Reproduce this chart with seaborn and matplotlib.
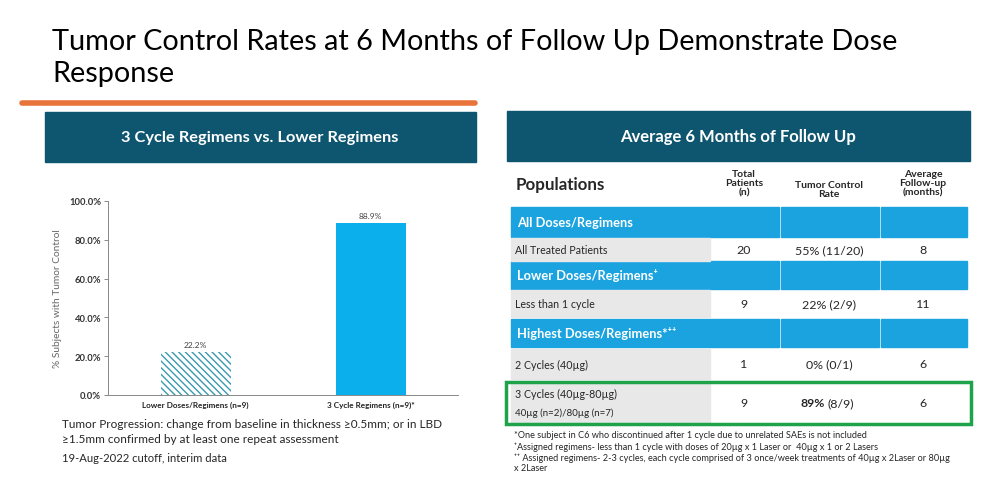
import matplotlib
matplotlib.use("Agg")
import matplotlib.pyplot as plt
import matplotlib.patches as mpatches
import numpy as np
import pandas as pd
import seaborn as sns

sns.set_theme(style="white")
plt.rcParams["font.family"] = ["Lato", "DejaVu Sans"]
plt.rcParams["hatch.linewidth"] = 1.0

# bar chart data
categories = ["Lower Doses/Regimens (n=9)", "3 Cycle Regimens (n=9)*"]
control_pct = [22.2, 88.9]
y_ticks = [0, 20, 40, 60, 80, 100]

# table data
group_names = ["All Doses/Regimens", "Lower Doses/Regimens\u207a", "Highest Doses/Regimens*\u207a\u207a"]
row_labels = ["All Treated Patients", "Less than 1 cycle", "2 Cycles (40\u00b5g)",
              "3 Cycles (40\u00b5g-80\u00b5g)"]
row_sublabels = ["", "", "", "40\u00b5g (n=2)/80\u00b5g (n=7)"]
total_patients = [20, 9, 1, 9]
controlled = [11, 2, 0, 8]
followup_months = [8, 11, 6, 6]
footnotes = [
    "*One subject in C6 who discontinued after 1 cycle due to unrelated SAEs is not included",
    "\u207aAssigned regimens- less than 1 cycle with doses of 20\u00b5g x 1 Laser or  40\u00b5g x 1 or 2 Lasers",
    "\u207a\u207a Assigned regimens- 2-3 cycles, each cycle comprised of 3 once/week treatments of 40\u00b5g x 2Laser or 80\u00b5g",
    "x 2Laser",
]

DARK = "#0E5670"
BLUE = "#1AA3DF"
BAR_BLUE = "#0BAFEC"
HATCH = "#3A9BB0"
GREY = "#E8E8E8"

W, H = 992, 485
fig = plt.figure(figsize=(W / 100, H / 100), dpi=100)
fig.patch.set_facecolor("white")

# background canvas in pixel coords
bg = fig.add_axes([0, 0, 1, 1])
bg.set_xlim(0, W)
bg.set_ylim(H, 0)
bg.axis("off")

bg.text(52, 42, "Tumor Control Rates at 6 Months of Follow Up Demonstrate Dose",
        fontsize=20.8, va="center", ha="left", color="black")
bg.text(52, 74, "Response", fontsize=20.8, va="center", ha="left", color="black")
bg.plot([22, 475], [104, 104], color="#E8743B", lw=4, solid_capstyle="round")

# header boxes
bg.add_patch(mpatches.Rectangle((45, 113), 431, 50, color=DARK))
bg.text(260, 138, "3 Cycle Regimens vs. Lower Regimens", color="white",
        fontsize=11.8, fontweight="bold", ha="center", va="center")
bg.add_patch(mpatches.Rectangle((507, 112), 463, 50, color=DARK))
bg.text(738, 137, "Average 6 Months of Follow Up", color="white",
        fontsize=12, fontweight="bold", ha="center", va="center")

# --- bar chart ---
ax = fig.add_axes([108 / W, (H - 396) / H, 350 / W, 194 / H])
df = pd.DataFrame({"group": categories, "pct": control_pct})
sns.barplot(data=df, x="group", y="pct", ax=ax, width=0.4,
            color=BAR_BLUE, saturation=1)
first = ax.patches[0]
first.set_facecolor("white")
first.set_edgecolor(HATCH)
first.set_hatch("\\\\\\\\\\")
for p in ax.patches:
    p.set_linewidth(0)
for i, v in enumerate(control_pct):
    ax.text(i, v + 2, f"{v:.1f}%", ha="center", va="bottom", fontsize=6, color="#444444")
ax.set_xlim(-0.5, 1.5)
ax.set_ylim(0, 100)
ax.set_yticks(y_ticks)
ax.set_yticklabels([f"{t:.1f}%" for t in y_ticks], fontsize=6.8, fontweight="bold", color="#333333")
ax.set_xticks(range(len(categories)))
ax.set_xticklabels(categories, fontsize=5.9, fontweight="bold", color="#222222")
ax.set_xticks([0.5, 1.5], minor=True)
ax.tick_params(axis="x", which="major", length=0, pad=4)
ax.tick_params(axis="x", which="minor", length=3, width=0.6, color="#777777", direction="out")
ax.tick_params(axis="y", length=3, width=0.6, color="#777777", direction="out", left=True, pad=2)
ax.set_xlabel("")
ax.set_ylabel("% Subjects with Tumor Control", fontsize=7.3, color="#666666", labelpad=5)
for s in ["top", "right"]:
    ax.spines[s].set_visible(False)
for s in ["left", "bottom"]:
    ax.spines[s].set_color("#888888")
    ax.spines[s].set_linewidth(0.7)
ax.set_facecolor("white")

bg.text(62, 425, "Tumor Progression: change from baseline in thickness \u22650.5mm; or in LBD",
        fontsize=8.45, va="center", ha="left")
bg.text(62, 440, "\u22651.5mm confirmed by at least one repeat assessment",
        fontsize=8.45, va="center", ha="left")
bg.text(62, 459, "19-Aug-2022 cutoff, interim data", fontsize=8.1, va="center", ha="left")

# --- table ---
x0, x_lab, x_c1, x_c2, x_end = 511, 710, 779, 879, 967
c1_mid, c2_mid, c3_mid = 744, 829, 923

bg.text(516, 185, "Populations", fontsize=12.2, fontweight="bold", va="center", ha="left")
bg.text(c1_mid, 184, "Total\nPatients\n(n)", fontsize=7.5, fontweight="bold",
        va="center", ha="center", linespacing=1.0)
bg.text(c2_mid, 190, "Tumor Control\nRate", fontsize=7.5, fontweight="bold",
        va="center", ha="center", linespacing=1.0)
bg.text(c3_mid, 184, "Average\nFollow-up\n(months)", fontsize=7.5, fontweight="bold",
        va="center", ha="center", linespacing=1.0)

band_y = [(208, 238), (262, 290), (320, 348)]
row_y = [(239, 262), (291, 318), (350, 380), (383, 424)]

for g, (ya, yb) in enumerate(band_y):
    bg.add_patch(mpatches.Rectangle((x0, ya), x_c1 - x0, yb - ya, color=BLUE))
    bg.add_patch(mpatches.Rectangle((x_c1 + 2, ya), x_c2 - x_c1 - 2, yb - ya, color=BLUE))
    bg.add_patch(mpatches.Rectangle((x_c2 + 2, ya), x_end - x_c2 - 2, yb - ya, color=BLUE))
    bg.text(517, (ya + yb) / 2, group_names[g], color="white", fontsize=9.3,
            fontweight="bold", va="center", ha="left")

for i, (ya, yb) in enumerate(row_y):
    ym = (ya + yb) / 2
    bg.add_patch(mpatches.Rectangle((x0, ya), x_lab - x0, yb - ya, color=GREY))
    if row_sublabels[i]:
        bg.text(515, ym - 9, row_labels[i], fontsize=7.7, va="center", ha="left")
        bg.text(515, ym + 10, row_sublabels[i], fontsize=7, va="center", ha="left")
    else:
        bg.text(515, ym, row_labels[i], fontsize=7.7, va="center", ha="left")
    bg.text(c1_mid, ym, str(total_patients[i]), fontsize=8.9, va="center", ha="center")
    rate = round(100 * controlled[i] / total_patients[i])
    if i == len(row_y) - 1:
        bg.text(c2_mid - 4, ym, f"{rate}%", fontsize=8.9, fontweight="bold", va="center", ha="right")
        bg.text(c2_mid - 2, ym, f"({controlled[i]}/{total_patients[i]})", fontsize=8.9,
                va="center", ha="left")
    else:
        bg.text(c2_mid, ym, f"{rate}% ({controlled[i]}/{total_patients[i]})", fontsize=8.9,
                va="center", ha="center")
    bg.text(c3_mid, ym, str(followup_months[i]), fontsize=8.9, va="center", ha="center")

# highlight box
bg.add_patch(mpatches.Rectangle((506, 383), 465, 42, fill=False, edgecolor="#1FA34A", lw=2.5))

for k, line in enumerate(footnotes):
    bg.text(514, 436 + 11 * k, line, fontsize=6.6, va="center", ha="left")

fig.savefig("out.png", dpi=100)
